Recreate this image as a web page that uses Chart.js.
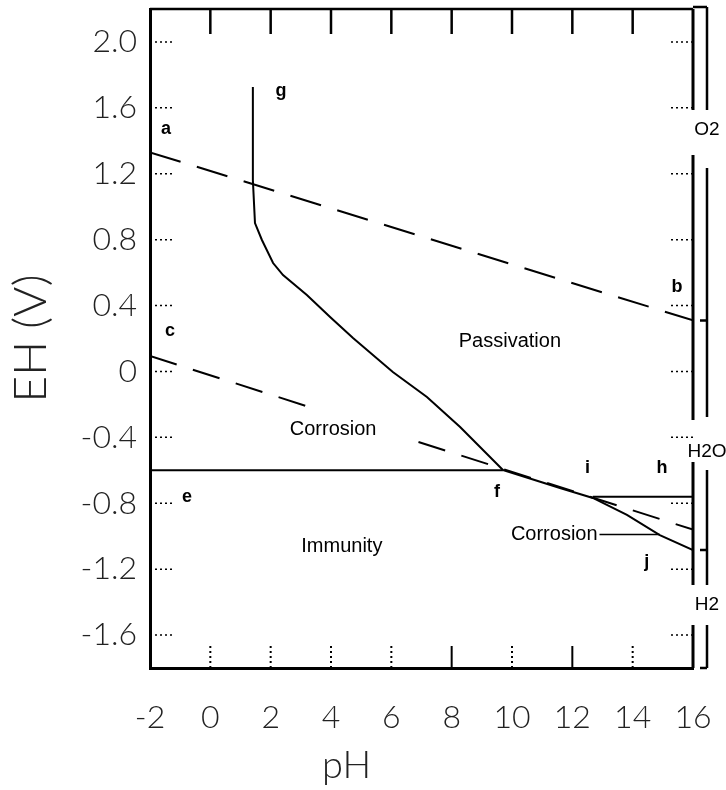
<!DOCTYPE html>
<html>
<head>
<meta charset="utf-8">
<script src="https://cdn.jsdelivr.net/npm/chart.js@4.4.1/dist/chart.umd.min.js"></script>
<style>
  html, body { margin: 0; padding: 0; background: #fff; }
  #wrap { width: 726px; height: 790px; position: relative; }
</style>
</head>
<body>
<div id="wrap"><canvas id="pourbaix"></canvas></div>
<script>
// axis ticks
const phTicks = [-2, 0, 2, 4, 6, 8, 10, 12, 14, 16];
const ehTicks = [-1.6, -1.2, -0.8, -0.4, 0, 0.4, 0.8, 1.2, 1.6, 2.0];

// a-b : O2 / H2O line (dashed)
const abPH = [-2, 16];
const abE = [1.33, 0.31];

// c-d : H2O / H2 line (dashed, broken behind the "Corrosion" label)
const cdPH = [-2, 3.2, 5, 6.9, 16];
const cdE = [0.094, -0.211, null, -0.428, -0.96];

// e-f : Zn / Zn2+
const efPH = [-2, 9.7];
const efE = [-0.6, -0.6];

// g-f : corrosion / passivation
const gPH = [1.41, 1.41, 1.48, 1.71, 2.08, 2.41, 3.2, 3.97, 4.73, 6.05, 7.18, 8.28, 9.7];
const gE = [1.727, 1.162, 0.901, 0.798, 0.658, 0.585, 0.464, 0.33, 0.203, -0.003, -0.155, -0.337, -0.598];

// f-j : immunity / passivation, alkaline side
const fjPH = [9.7, 11.59, 12.68, 13.81, 14.9, 16];
const fjE = [-0.598, -0.707, -0.768, -0.871, -0.993, -1.084];

// i-h
const ihPH = [12.68, 16];
const ihE = [-0.76, -0.76];

// leader line of the right "Corrosion" label
const leadPH = [12.9, 14.9];
const leadE = [-0.99, -0.99];

// point labels
const letterText = ["a", "b", "c", "e", "f", "g", "i", "h", "j"];
const letterPH = [-1.47, 15.47, -1.34, -0.77, 9.5, 2.34, 12.5, 14.97, 14.47];
const letterE = [1.472, 0.512, 0.246, -0.762, -0.732, 1.70, -0.586, -0.586, -1.157];

// region labels
const regionText = ["Passivation", "Corrosion", "Immunity", "Corrosion"];
const regionPH = [9.93, 4.07, 4.36, 11.4];
const regionE = [0.179, -0.353, -1.06, -0.987];

// species on the right edge
const speciesText = ["O2", "H2O", "H2"];
const speciesE = [1.465, -0.489, -1.418];

function pts(xs, ys) {
  return xs.map((x, i) => ({ x: x, y: ys[i] }));
}

function lineSet(xs, ys, dash, width) {
  return {
    data: pts(xs, ys),
    showLine: true,
    spanGaps: false,
    borderColor: "#000",
    borderWidth: width || 2,
    borderDash: dash || [],
    pointRadius: 0,
    tension: 0,
    fill: false,
  };
}

// frame, inner ticks, labels, right bracket
const frame = {
  id: "frame",
  afterDraw(chart) {
    const ctx = chart.ctx;
    const xs = chart.scales.x;
    const ys = chart.scales.y;
    const { left, right, top, bottom } = chart.chartArea;
    ctx.save();
    ctx.strokeStyle = "#000";
    ctx.lineCap = "butt";

    // top border + ticks
    ctx.lineWidth = 2.5;
    ctx.beginPath();
    ctx.moveTo(left, top);
    ctx.lineTo(right, top);
    ctx.stroke();
    phTicks.slice(1, -1).forEach((v) => {
      const px = xs.getPixelForValue(v);
      ctx.beginPath();
      ctx.moveTo(px, top);
      ctx.lineTo(px, top + 25);
      ctx.stroke();
    });

    // bottom ticks (mostly dotted)
    ctx.lineWidth = 2;
    phTicks.slice(1, -1).forEach((v) => {
      const px = xs.getPixelForValue(v);
      ctx.setLineDash(v === 8 || v === 12 ? [] : [2, 3]);
      ctx.beginPath();
      ctx.moveTo(px, bottom);
      ctx.lineTo(px, bottom - 22);
      ctx.stroke();
    });

    // left / right ticks (dotted)
    ctx.setLineDash([2, 3]);
    ctx.lineWidth = 1.5;
    ehTicks.forEach((v) => {
      const py = ys.getPixelForValue(v);
      ctx.beginPath();
      ctx.moveTo(left, py);
      ctx.lineTo(left + 25, py);
      ctx.moveTo(right - 22, py);
      ctx.lineTo(right, py);
      ctx.stroke();
    });
    ctx.setLineDash([]);

    // right border with gaps for species labels
    const gapsIn = [[1.587, 1.314], [-0.295, -0.55], [-1.296, -1.539]];
    const gapsOut = [[1.587, 1.235], [-0.276, -0.598], [-1.296, -1.539]];
    function brokenLine(x, y0, y1, gaps) {
      let cur = y0;
      ctx.beginPath();
      gaps.forEach((g) => {
        ctx.moveTo(x, cur);
        ctx.lineTo(x, ys.getPixelForValue(g[0]));
        cur = ys.getPixelForValue(g[1]);
      });
      ctx.moveTo(x, cur);
      ctx.lineTo(x, y1);
      ctx.stroke();
    }
    ctx.lineWidth = 3;
    brokenLine(right, top, bottom, gapsIn);
    const x2 = right + 14;
    ctx.lineWidth = 2.5;
    brokenLine(x2, top - 2, bottom, gapsOut);
    ctx.beginPath();
    ctx.moveTo(right, top - 2);
    ctx.lineTo(x2, top - 2);
    ctx.moveTo(right + 7, bottom);
    ctx.lineTo(x2, bottom);
    [abE[1], fjE[fjE.length - 1]].forEach((v) => {
      const py = ys.getPixelForValue(v);
      ctx.moveTo(right + 7, py);
      ctx.lineTo(x2, py);
    });
    ctx.stroke();

    // texts
    ctx.fillStyle = "#000";
    ctx.textAlign = "center";
    ctx.textBaseline = "middle";
    ctx.font = "bold 18px 'Liberation Sans', Arial, sans-serif";
    letterText.forEach((t, i) => {
      ctx.fillText(t, xs.getPixelForValue(letterPH[i]), ys.getPixelForValue(letterE[i]));
    });
    ctx.font = "20px 'Liberation Sans', Arial, sans-serif";
    regionText.forEach((t, i) => {
      ctx.fillText(t, xs.getPixelForValue(regionPH[i]), ys.getPixelForValue(regionE[i]));
    });
    ctx.font = "19px 'Liberation Sans', Arial, sans-serif";
    speciesText.forEach((t, i) => {
      ctx.fillText(t, right + 14, ys.getPixelForValue(speciesE[i]));
    });

    // x axis title
    ctx.fillStyle = "#222";
    ctx.font = "300 38px Lato, 'DejaVu Sans', sans-serif";
    ctx.fillText("pH", left + (right - left) * 0.362, 766);
    ctx.restore();
  },
};

const ctx = document.getElementById("pourbaix").getContext("2d");
new Chart(ctx, {
  type: "scatter",
  data: {
    datasets: [
      lineSet(abPH, abE, [32, 17]),
      lineSet(cdPH, cdE, [28, 17]),
      lineSet(efPH, efE),
      lineSet(gPH, gE),
      lineSet(fjPH, fjE),
      lineSet(ihPH, ihE),
      lineSet(leadPH, leadE, [], 1.5),
    ],
  },
  options: {
    responsive: true,
    maintainAspectRatio: false,
    animation: false,
    layout: { padding: { top: 9, right: 33, left: 0, bottom: 0 } },
    plugins: {
      legend: { display: false },
      tooltip: { enabled: false },
    },
    scales: {
      x: {
        type: "linear",
        min: -2,
        max: 16,
        afterBuildTicks: (s) => { s.ticks = phTicks.map((v) => ({ value: v })); },
        afterFit: (s) => { s.height = 122; s.paddingLeft = 0; s.paddingRight = 0; },
        grid: { display: false, drawTicks: false },
        border: { display: true, color: "#000", width: 3 },
        ticks: {
          padding: 30,
          color: "#222",
          font: { family: "Lato, 'DejaVu Sans', sans-serif", size: 32, weight: 300 },
          maxRotation: 0,
          autoSkip: false,
        },
      },
      y: {
        type: "linear",
        min: -1.8,
        max: 2.2,
        afterBuildTicks: (s) => { s.ticks = ehTicks.map((v) => ({ value: v })); },
        afterFit: (s) => { s.width = 150; s.paddingTop = 0; s.paddingBottom = 0; },
        grid: { display: false, drawTicks: false },
        border: { display: true, color: "#000", width: 3 },
        ticks: {
          padding: 13,
          color: "#222",
          font: { family: "Lato, 'DejaVu Sans', sans-serif", size: 32, weight: 300 },
          callback: (v) => (v === 0 ? "0" : v.toFixed(1)),
        },
        title: {
          display: true,
          text: "EH (V)",
          color: "#222",
          font: { family: "Lato, 'DejaVu Sans', sans-serif", size: 46, weight: 300 },
          padding: { top: 4 },
        },
      },
    },
  },
  plugins: [frame],
});
</script>
</body>
</html>
